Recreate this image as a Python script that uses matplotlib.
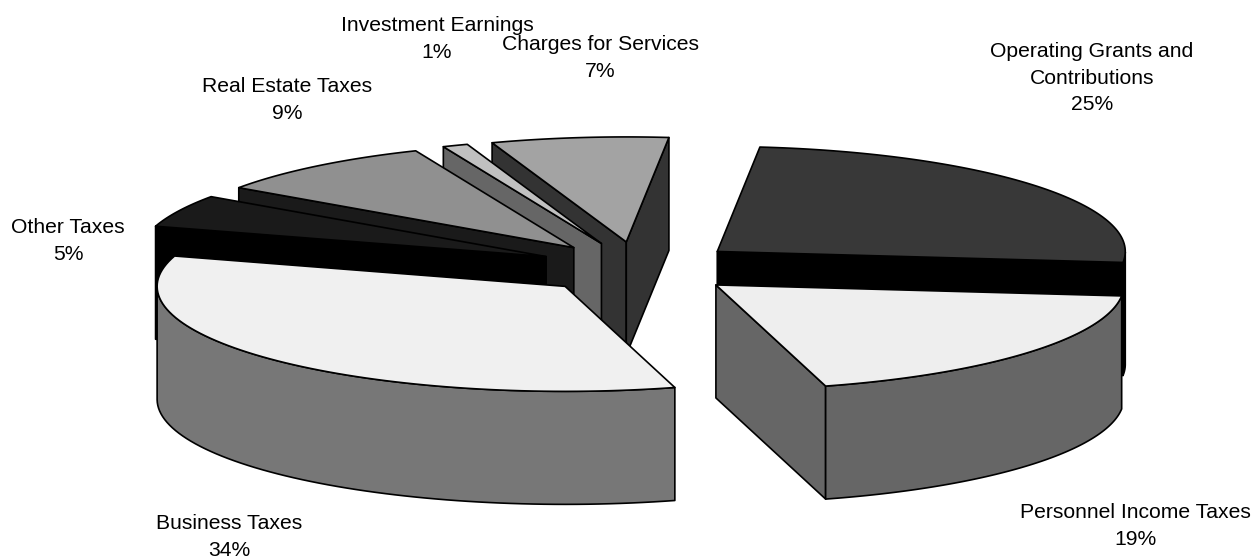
# Exploded 3D pie of revenue sources, drawn slice by slice with polygons

import numpy as np
import matplotlib
matplotlib.use('Agg')
import matplotlib.pyplot as plt
from matplotlib.patches import Polygon

plt.rcParams['font.family'] = ['Liberation Sans', 'DejaVu Sans']

# Slices in clockwise order
slice_names = ['Operating Grants and\nContributions', 'Personnel Income Taxes', 'Business Taxes',
               'Other Taxes', 'Real Estate Taxes', 'Investment Earnings', 'Charges for Services']
slice_values = [25, 19, 34, 5, 9, 1, 7]
top_colors = ['#383838', '#eeeeee', '#f0f0f0', '#1a1a1a', '#909090', '#c0c0c0', '#a3a3a3']
side_colors = ['#000000', '#666666', '#777777', '#000000', '#1a1a1a', '#666666', '#333333']
label_centers = [(1092, 78), (1135, 526), (229, 537), (68, 241), (287, 100), (437, 39), (600, 58)]

# Pie geometry in pixels
center_x, center_y = 638, 268
radius_x, radius_y = 408, 105
depth = 113
explode = 0.25
start_angle = 6.0


def rim_point(angle, apex):
    """Point on the rim of a slice; angle in degrees, clockwise from the back."""
    rad = np.radians(angle)
    return apex[0] + radius_x * np.sin(rad), apex[1] - radius_y * np.cos(rad)


def draw_slice(ax, apex, a0, a1, top, side):
    """Draws the visible cut walls, the visible outer wall and the top of one slice."""
    angles = np.linspace(a0, a1, 80)
    rim = [rim_point(a, apex) for a in angles]
    edge = {'edgecolor': 'black', 'linewidth': 1.2, 'joinstyle': 'round'}

    # A cut wall faces the viewer only on the near side of the pie
    walls = []
    if 180 < a0 % 360 < 360:
        walls.append(rim[0])
    if 0 < a1 % 360 < 180:
        walls.append(rim[-1])
    for end in walls:
        wall = [apex, end, (end[0], end[1] + depth), (apex[0], apex[1] + depth)]
        ax.add_patch(Polygon(wall, facecolor=side, **edge))

    front = [p for a, p in zip(angles, rim) if 90 <= a <= 270]
    if len(front) > 1:
        lower = [(x, y + depth) for x, y in reversed(front)]
        ax.add_patch(Polygon(front + lower, facecolor=side, **edge))

    ax.add_patch(Polygon([apex] + rim, facecolor=top, **edge))


fig = plt.figure(figsize=(12.57, 5.59), dpi=100)
ax = fig.add_axes([0, 0, 1, 1])
ax.set_xlim(0, 1257)
ax.set_ylim(559, 0)
ax.axis('off')

# Work out the angle range and exploded apex of every slice
shares = np.array(slice_values) / sum(slice_values) * 360
ends = start_angle + np.cumsum(shares)
starts = ends - shares
mids = np.radians((starts + ends) / 2)
apex_x = center_x + explode * radius_x * np.sin(mids)
apex_y = center_y - explode * radius_y * np.cos(mids)

# Paint back to front
for i in np.argsort(apex_y):
    draw_slice(ax, (apex_x[i], apex_y[i]), starts[i], ends[i], top_colors[i], side_colors[i])

for name, value, (x, y) in zip(slice_names, slice_values, label_centers):
    ax.text(x, y, f'{name}\n{value}%', ha='center', va='center', fontsize=15.2,
            linespacing=1.49, color='black')

fig.savefig('out.png', dpi=100)
